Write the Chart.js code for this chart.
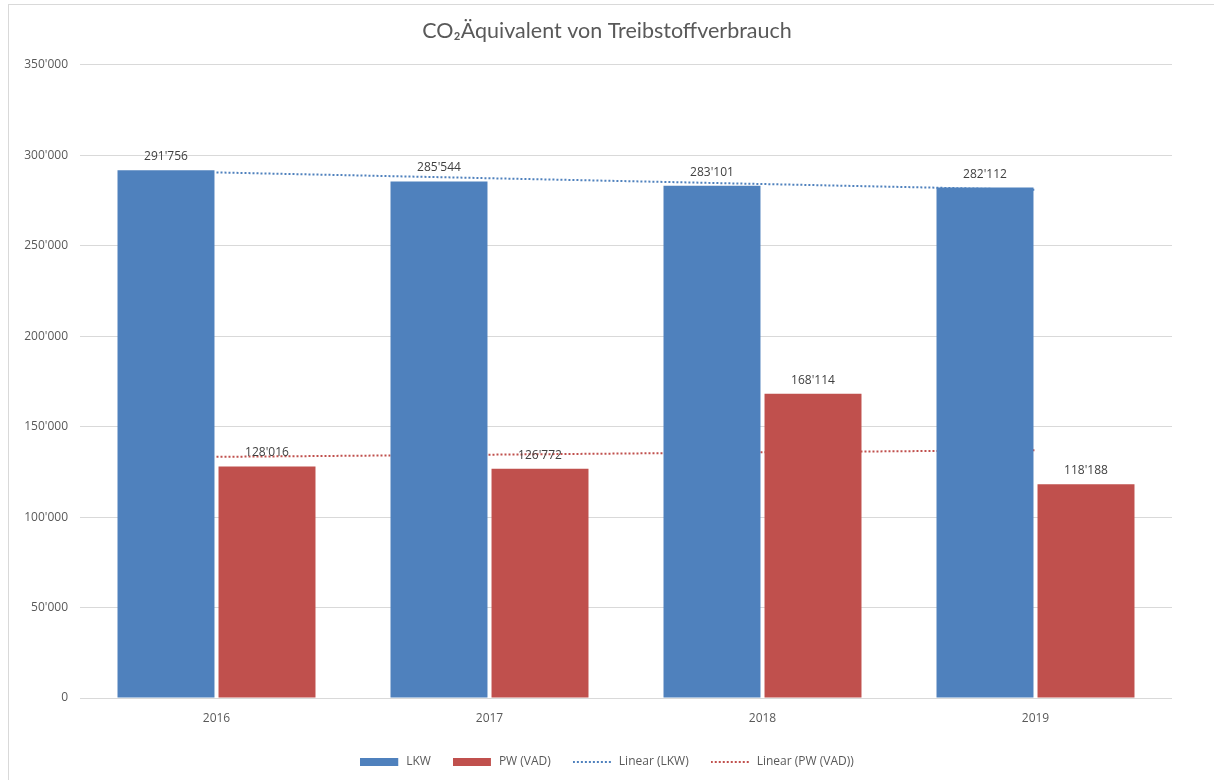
<!DOCTYPE html>
<html>
<head>
<meta charset="utf-8">
<script src="https://cdn.jsdelivr.net/npm/chart.js@4/dist/chart.umd.min.js"></script>
<style>
  body { margin: 0; background: #fff; }
  #frame { position: absolute; left: 8px; top: 4px; width: 1220px; height: 790px;
           border-left: 1px solid #d9d9d9; border-top: 1px solid #d9d9d9; }
  #wrap { position: absolute; left: 0; top: 0; width: 1214px; height: 780px; }
</style>
</head>
<body>
<div id="frame"></div>
<div id="wrap"><canvas id="chart"></canvas></div>
<script>
// ========== Data ==========

const years = ['2016', '2017', '2018', '2019'];
const lkwValues = [291756, 285544, 283101, 282112];
const pwValues = [128016, 126772, 168114, 118188];
// trend lines
const lkwTrend = [290500, 287300, 284100, 280900];
const pwTrend = [133300, 134500, 135800, 137000];
const yTicks = [0, 50000, 100000, 150000, 200000, 250000, 300000, 350000];

const BLUE = '#4f81bd';
const RED = '#c0504d';
const TEXT = '#595959';

function formatCH(v) {
  return String(v).replace(/\B(?=(\d{3})+(?!\d))/g, "'");
}

// ========== Legend swatches ==========

function makeSwatch(color, dotted) {
  const c = document.createElement('canvas');
  c.width = 40;
  c.height = 8;
  const g = c.getContext('2d');
  if (dotted) {
    g.strokeStyle = color;
    g.lineWidth = 2;
    g.setLineDash([2, 2]);
    g.beginPath();
    g.moveTo(0, 4);
    g.lineTo(40, 4);
    g.stroke();
  } else {
    g.fillStyle = color;
    g.fillRect(0, 0, 38, 8);
  }
  return c;
}

// ========== Data labels ==========

const barLabels = {
  id: 'barLabels',
  afterDatasetsDraw(chart) {
    const ctx = chart.ctx;
    ctx.save();
    ctx.font = '12px "Open Sans"';
    ctx.fillStyle = '#404040';
    ctx.textAlign = 'center';
    ctx.textBaseline = 'alphabetic';
    chart.data.datasets.forEach((ds, i) => {
      if (ds.type !== 'bar') return;
      chart.getDatasetMeta(i).data.forEach((bar, j) => {
        ctx.fillText(formatCH(ds.data[j]), bar.x, bar.y - 10);
      });
    });
    ctx.restore();
  }
};

// ========== Chart ==========

new Chart(document.getElementById('chart'), {
  data: {
    labels: years,
    datasets: [{
      type: 'bar',
      label: 'LKW',
      data: lkwValues,
      backgroundColor: BLUE,
      categoryPercentage: 0.74,
      barPercentage: 0.96,
      order: 1,
    }, {
      type: 'bar',
      label: 'PW (VAD)',
      data: pwValues,
      backgroundColor: RED,
      categoryPercentage: 0.74,
      barPercentage: 0.96,
      order: 1,
    }, {
      type: 'line',
      label: 'Linear (LKW)',
      data: lkwTrend,
      borderColor: BLUE,
      borderWidth: 2,
      borderDash: [2, 2],
      pointRadius: 0,
      order: 2,
    }, {
      type: 'line',
      label: 'Linear (PW (VAD))',
      data: pwTrend,
      borderColor: RED,
      borderWidth: 2,
      borderDash: [2, 2],
      pointRadius: 0,
      order: 2,
    }],
  },
  options: {
    responsive: true,
    maintainAspectRatio: false,
    animation: false,
    layout: { padding: { top: 0, right: 0, bottom: 2, left: 0 } },
    scales: {
      x: {
        grid: { display: false },
        border: { display: false },
        ticks: { color: TEXT, font: { family: 'Open Sans', size: 12 }, padding: 5 },
        afterFit: (scale) => { scale.height = 36; },
      },
      y: {
        min: 0,
        max: 350000,
        afterBuildTicks: (scale) => { scale.ticks = yTicks.map(v => ({ value: v })); },
        grid: { color: '#d9d9d9', drawTicks: false },
        border: { display: false },
        ticks: {
          color: TEXT,
          font: { family: 'Open Sans', size: 12 },
          padding: 12,
          callback: (v) => formatCH(v),
        },
        afterFit: (scale) => { scale.width = 80; },
      },
      // empty right axis, only keeps the right margin
      yRight: {
        position: 'right',
        grid: { display: false },
        border: { display: false },
        ticks: { display: false },
        afterFit: (scale) => { scale.width = 42; },
      },
    },
    plugins: {
      title: {
        display: true,
        text: 'CO₂Äquivalent von Treibstoffverbrauch',
        color: TEXT,
        font: { family: 'Lato', size: 21.5, weight: 'normal' },
        padding: { top: 18, bottom: 21 },
      },
      legend: {
        position: 'bottom',
        labels: {
          usePointStyle: true,
          pointStyleWidth: 40,
          boxHeight: 8,
          padding: 22,
          color: TEXT,
          font: { family: 'Open Sans', size: 12 },
          generateLabels: (chart) => chart.data.datasets.map((ds, i) => ({
            text: ds.label,
            datasetIndex: i,
            fontColor: TEXT,
            pointStyle: makeSwatch(ds.type === 'bar' ? ds.backgroundColor : ds.borderColor, ds.type === 'line'),
            hidden: false,
            lineWidth: 0,
          })),
        },
      },
      tooltip: { enabled: false },
    },
  },
  plugins: [barLabels],
});
</script>
</body>
</html>
